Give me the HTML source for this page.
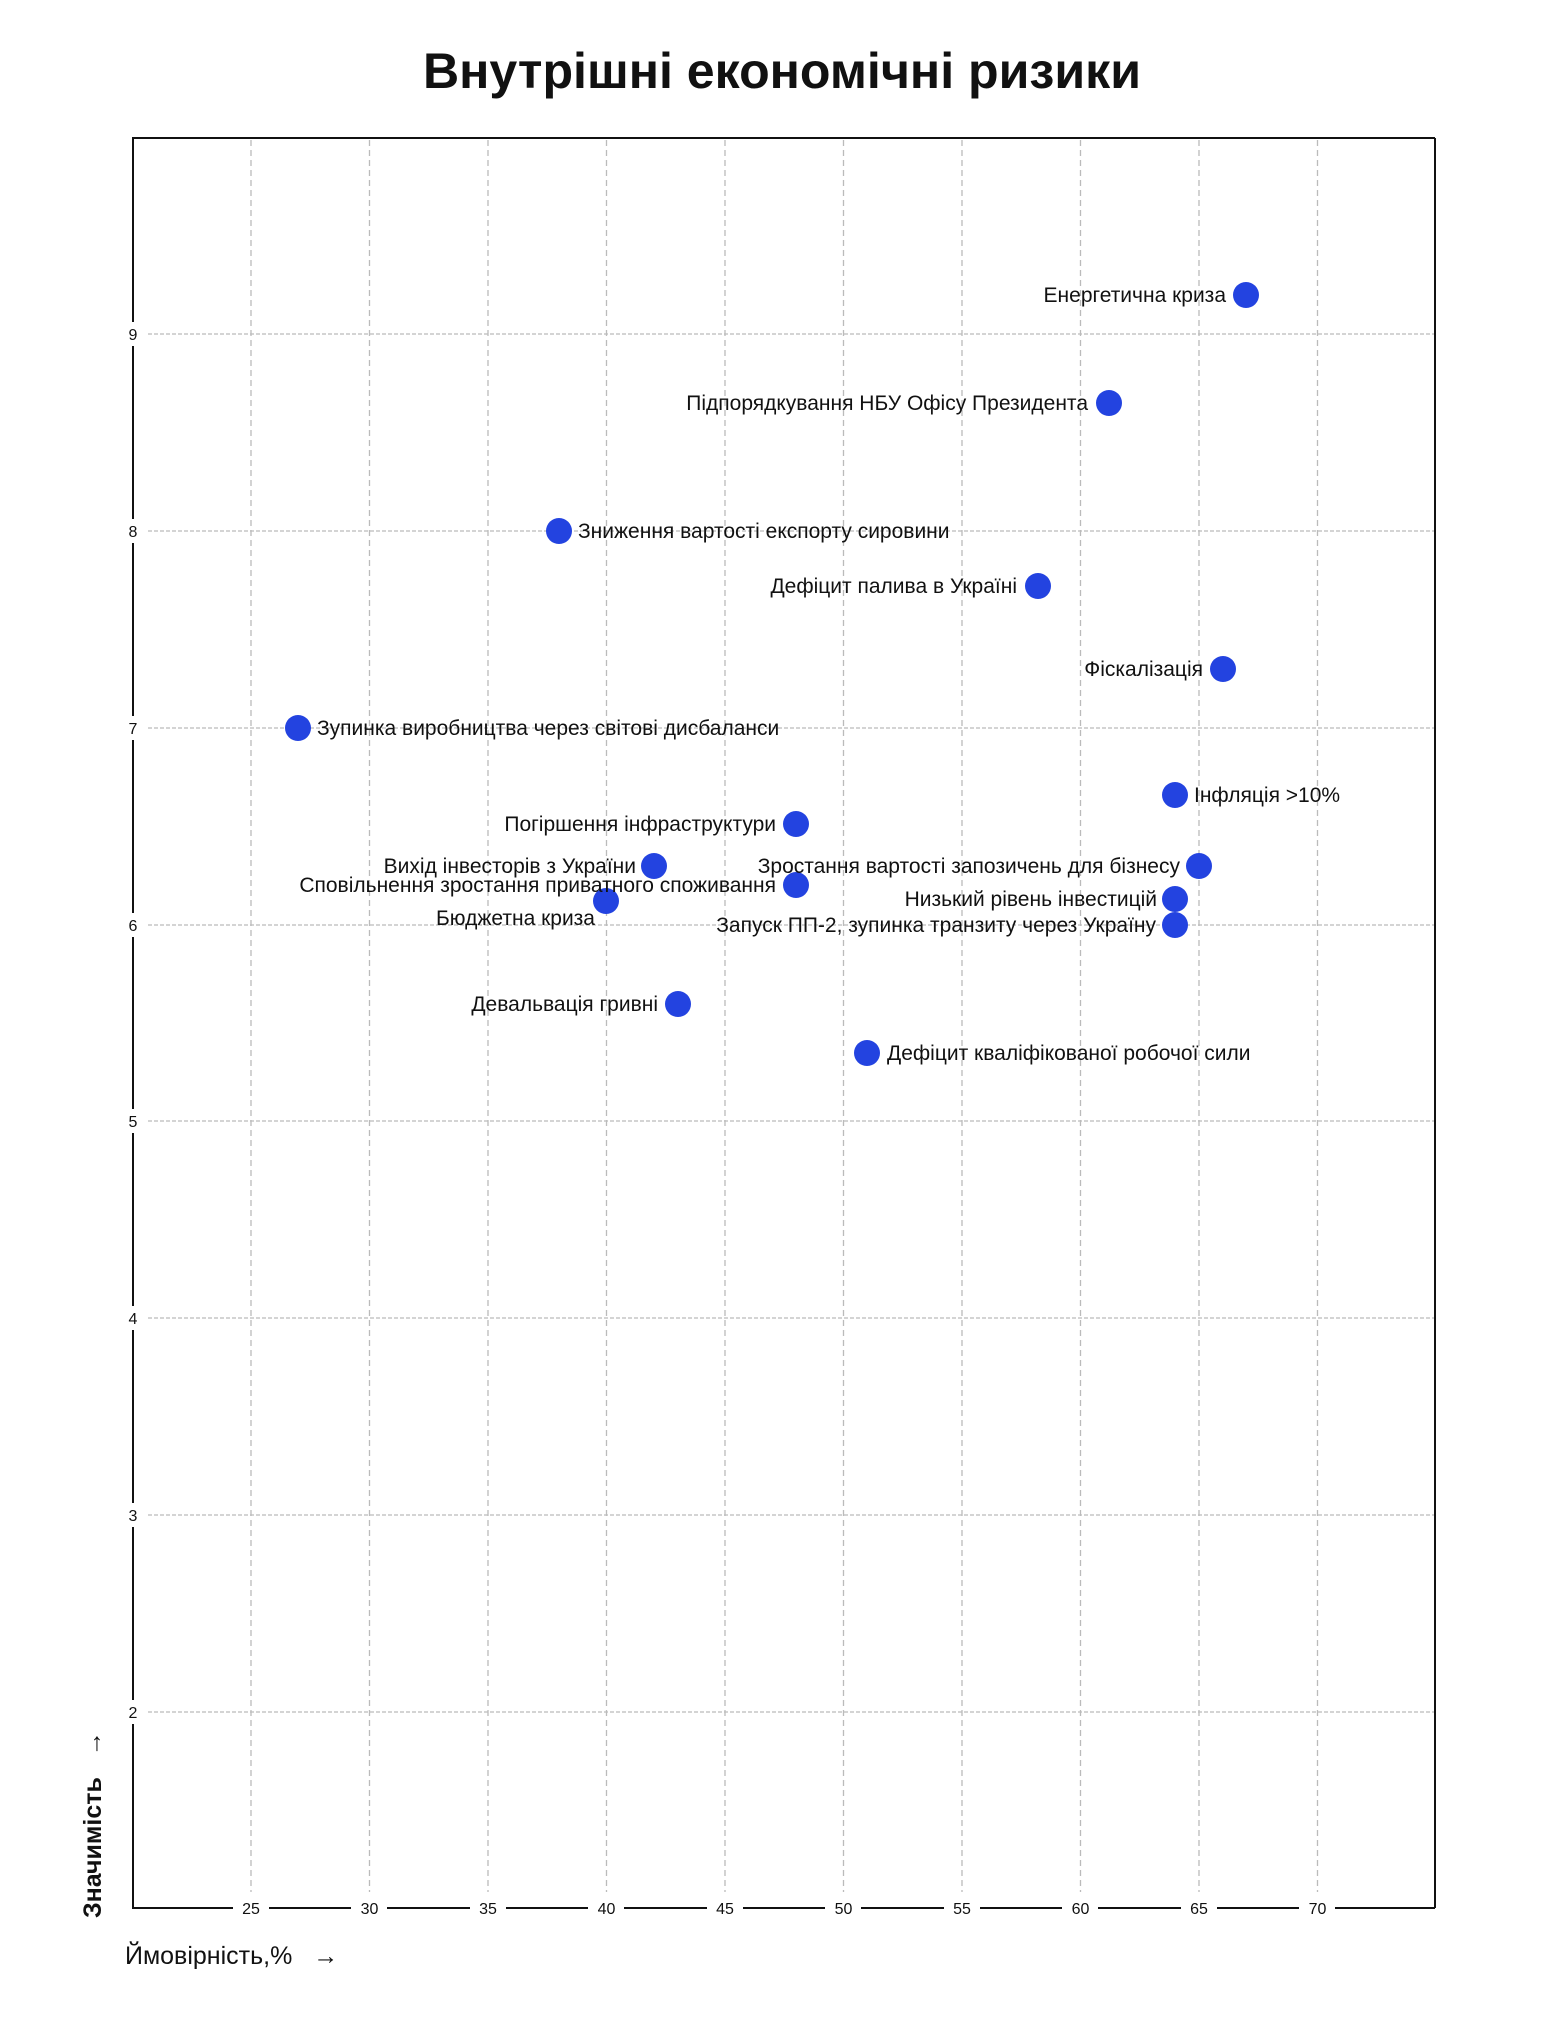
<!DOCTYPE html>
<html><head><meta charset="utf-8"><style>
html,body{margin:0;padding:0;background:#fff}
svg{display:block}
text{font-family:"Liberation Sans",sans-serif;fill:#111}
</style></head><body>
<svg width="1565" height="2037" viewBox="0 0 1565 2037" xmlns="http://www.w3.org/2000/svg">
<text x="782" y="88" text-anchor="middle" font-size="50" font-weight="bold" textLength="718" lengthAdjust="spacingAndGlyphs">Внутрішні економічні ризики</text>
<g stroke="#bbb" stroke-width="1.3" stroke-dasharray="6,4">
<line x1="251" y1="140" x2="251" y2="1892"/><line x1="369.5" y1="140" x2="369.5" y2="1892"/><line x1="488" y1="140" x2="488" y2="1892"/><line x1="606.5" y1="140" x2="606.5" y2="1892"/><line x1="725" y1="140" x2="725" y2="1892"/><line x1="843.5" y1="140" x2="843.5" y2="1892"/><line x1="962" y1="140" x2="962" y2="1892"/><line x1="1080.5" y1="140" x2="1080.5" y2="1892"/><line x1="1199" y1="140" x2="1199" y2="1892"/><line x1="1317.5" y1="140" x2="1317.5" y2="1892"/>
</g>
<g stroke="#bbb" stroke-width="1.3" stroke-dasharray="4,2">
<line x1="148" y1="334" x2="1435" y2="334"/><line x1="148" y1="531" x2="1435" y2="531"/><line x1="148" y1="728" x2="1435" y2="728"/><line x1="148" y1="925" x2="1435" y2="925"/><line x1="148" y1="1121" x2="1435" y2="1121"/><line x1="148" y1="1318" x2="1435" y2="1318"/><line x1="148" y1="1515" x2="1435" y2="1515"/><line x1="148" y1="1712" x2="1435" y2="1712"/>
</g>
<g stroke="#111" stroke-width="2" fill="none">
<line x1="132" y1="138" x2="1435" y2="138"/><line x1="1435" y1="138" x2="1435" y2="1908"/>
<line x1="133" y1="138" x2="133" y2="1908"/><line x1="132" y1="1908" x2="1435" y2="1908"/>
</g>
<g fill="#fff">
<rect x="125" y="322" width="16" height="24"/><rect x="125" y="519" width="16" height="24"/><rect x="125" y="716" width="16" height="24"/><rect x="125" y="913" width="16" height="24"/><rect x="125" y="1109" width="16" height="24"/><rect x="125" y="1306" width="16" height="24"/><rect x="125" y="1503" width="16" height="24"/><rect x="125" y="1700" width="16" height="24"/>
<rect x="233" y="1898" width="36" height="20"/><rect x="351" y="1898" width="36" height="20"/><rect x="470" y="1898" width="36" height="20"/><rect x="588" y="1898" width="36" height="20"/><rect x="707" y="1898" width="36" height="20"/><rect x="825" y="1898" width="36" height="20"/><rect x="944" y="1898" width="36" height="20"/><rect x="1062" y="1898" width="36" height="20"/><rect x="1181" y="1898" width="36" height="20"/><rect x="1299" y="1898" width="36" height="20"/>
</g>
<g font-size="16" text-anchor="middle">
<text x="133" y="340">9</text><text x="133" y="537">8</text><text x="133" y="734">7</text><text x="133" y="931">6</text><text x="133" y="1127">5</text><text x="133" y="1324">4</text><text x="133" y="1521">3</text><text x="133" y="1718">2</text>
<text x="251" y="1914">25</text><text x="369.5" y="1914">30</text><text x="488" y="1914">35</text><text x="606.5" y="1914">40</text><text x="725" y="1914">45</text><text x="843.5" y="1914">50</text><text x="962" y="1914">55</text><text x="1080.5" y="1914">60</text><text x="1199" y="1914">65</text><text x="1317.5" y="1914">70</text>
</g>
<text x="125" y="1964" font-size="25">Ймовірність,%  <tspan dx="14">→</tspan></text>
<text transform="translate(101,1918) rotate(-90)" font-size="25" font-weight="bold">Значимість  <tspan dx="14" font-weight="normal">→</tspan></text>
<g fill="#2343e0">
<circle cx="1246" cy="295" r="13"/><circle cx="1109" cy="403" r="13"/><circle cx="559" cy="531" r="13"/><circle cx="1038" cy="586" r="13"/><circle cx="1223" cy="669" r="13"/><circle cx="298" cy="728" r="13"/><circle cx="1175" cy="795" r="13"/><circle cx="796" cy="824" r="13"/><circle cx="654" cy="866" r="13"/><circle cx="1199" cy="866" r="13"/><circle cx="796" cy="885" r="13"/><circle cx="1175" cy="899" r="13"/><circle cx="606" cy="901" r="13"/><circle cx="1175" cy="925" r="13"/><circle cx="678" cy="1004" r="13"/><circle cx="867" cy="1053" r="13"/>
</g>
<g font-size="21">
<text x="1226" y="302" text-anchor="end">Енергетична криза</text>
<text x="1088" y="410" text-anchor="end">Підпорядкування НБУ Офісу Президента</text>
<text x="578" y="538">Зниження вартості експорту сировини</text>
<text x="1017" y="593" text-anchor="end">Дефіцит палива в Україні</text>
<text x="1203" y="676" text-anchor="end">Фіскалізація</text>
<text x="317" y="735">Зупинка виробництва через світові дисбаланси</text>
<text x="1194" y="802">Інфляція &gt;10%</text>
<text x="776" y="831" text-anchor="end">Погіршення інфраструктури</text>
<text x="636" y="873" text-anchor="end">Вихід інвесторів з України</text>
<text x="1180" y="873" text-anchor="end">Зростання вартості запозичень для бізнесу</text>
<text x="776" y="892" text-anchor="end">Сповільнення зростання приватного споживання</text>
<text x="1157" y="906" text-anchor="end">Низький рівень інвестицій</text>
<text x="595" y="925" text-anchor="end">Бюджетна криза</text>
<text x="1156" y="932" text-anchor="end">Запуск ПП-2, зупинка транзиту через Україну</text>
<text x="658" y="1011" text-anchor="end">Девальвація гривні</text>
<text x="887" y="1060">Дефіцит кваліфікованої робочої сили</text>
</g>
</svg>
</body></html>
